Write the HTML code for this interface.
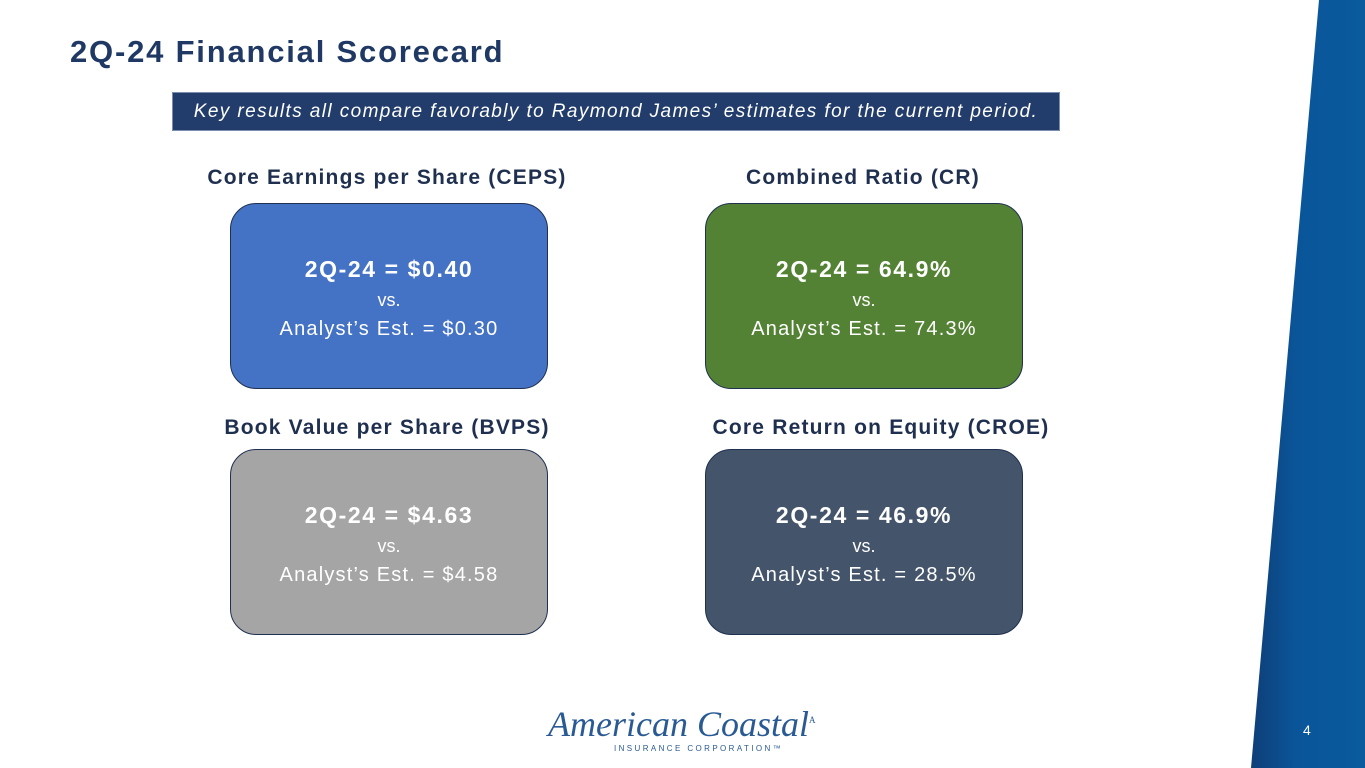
<!DOCTYPE html>
<html><head><meta charset="utf-8"><style>
body{margin:0;width:1365px;height:768px;position:relative;overflow:hidden;background:#fff;font-family:"Liberation Sans",sans-serif}
.t{position:absolute;white-space:nowrap}
.h{position:absolute;font-weight:bold;font-size:21px;letter-spacing:1.2px;color:#1f2f4f;text-align:center;width:460px}
.box{position:absolute;width:316px;height:184px;border:1.5px solid #1f3050;border-radius:26px;color:#fff;text-align:center}
.box .a{position:absolute;top:52px;width:100%;font-weight:bold;font-size:23px;letter-spacing:1.6px}
.box .b{position:absolute;top:86px;width:100%;font-size:18px}
.box .c{position:absolute;top:114px;width:100%;font-size:20px;letter-spacing:1.2px}
</style></head><body>
<svg style="position:absolute;left:0;top:0" width="1365" height="768">
<defs><linearGradient id="g" x1="0" x2="1"><stop offset="0" stop-color="#0e3f78"/><stop offset="0.4" stop-color="#0a5599"/><stop offset="1" stop-color="#0a5a9e"/></linearGradient></defs>
<polygon points="1319,0 1365,0 1365,768 1251,768" fill="url(#g)"/></svg>
<div class="t" style="left:70px;top:34px;font-size:31px;font-weight:bold;letter-spacing:1.8px;color:#1f3864">2Q-24 Financial Scorecard</div>
<div style="position:absolute;left:172px;top:92px;width:888px;height:39px;background:#223d6b;border:1px solid #7a8fb0;box-sizing:border-box;color:#fff;font-style:italic;font-size:19px;letter-spacing:1.4px;text-align:center;line-height:37px;white-space:nowrap">Key results all compare favorably to Raymond James’ estimates for the current period.</div>
<div class="h" style="left:157px;top:166px">Core Earnings per Share (CEPS)</div>
<div class="h" style="left:633px;top:166px">Combined Ratio (CR)</div>
<div class="h" style="left:157px;top:416px">Book Value per Share (BVPS)</div>
<div class="h" style="left:651px;top:416px">Core Return on Equity (CROE)</div>
<div class="box" style="left:230px;top:203px;background:#4472c4"><div class="a">2Q-24 = $0.40</div><div class="b">vs.</div><div class="c">Analyst’s Est. = $0.30</div></div>
<div class="box" style="left:705px;top:203px;background:#548235"><div class="a">2Q-24 = 64.9%</div><div class="b">vs.</div><div class="c">Analyst’s Est. = 74.3%</div></div>
<div class="box" style="left:230px;top:449px;background:#a5a5a5"><div class="a">2Q-24 = $4.63</div><div class="b">vs.</div><div class="c">Analyst’s Est. = $4.58</div></div>
<div class="box" style="left:705px;top:449px;background:#44546a"><div class="a">2Q-24 = 46.9%</div><div class="b">vs.</div><div class="c">Analyst’s Est. = 28.5%</div></div>
<div class="t" style="left:548px;top:703px;font-family:'Liberation Serif',serif;font-style:italic;font-size:36px;color:#2a5a94">American Coastal<sup style="font-size:9px;font-style:normal">A</sup></div>
<div class="t" style="left:614px;top:744px;font-size:8px;letter-spacing:2.4px;color:#2a5a94">INSURANCE CORPORATION™</div>
<div class="t" style="left:1303px;top:722px;font-size:14px;color:#fff">4</div>
</body></html>
